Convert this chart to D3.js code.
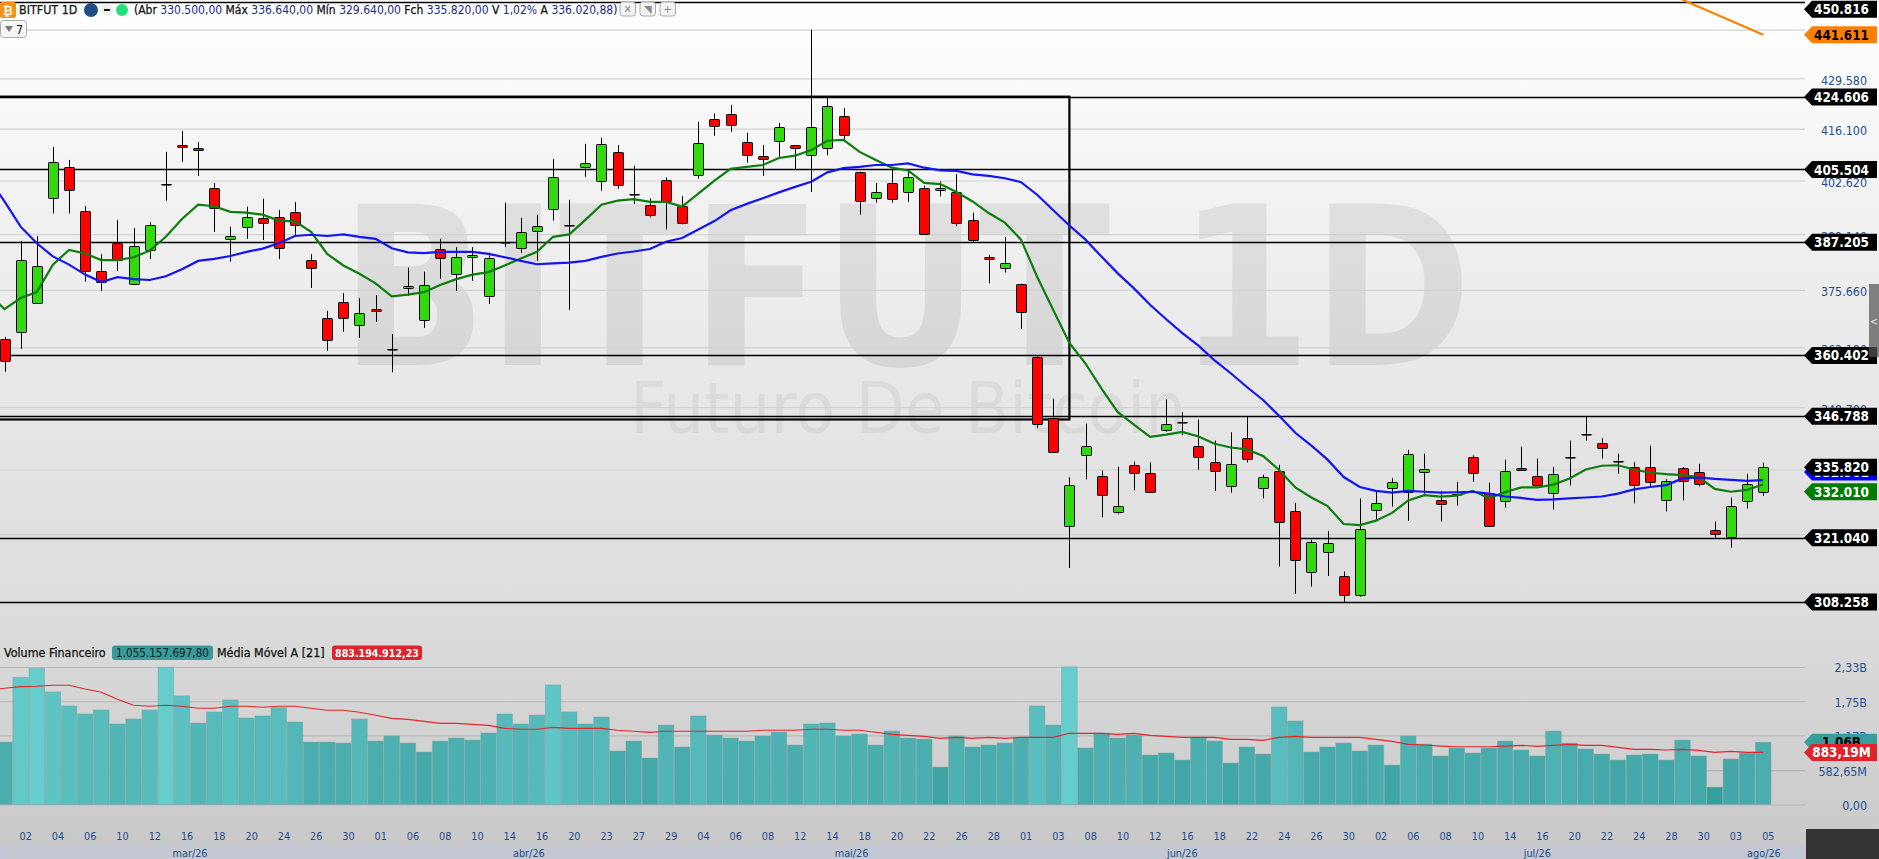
<!DOCTYPE html>
<html>
<head>
<meta charset="utf-8">
<script src="https://cdn.jsdelivr.net/npm/d3@7"></script>
<style>
  html, body { margin: 0; padding: 0; background: #fff; overflow: hidden; }
  svg { display: block; }
  text { font-family: "DejaVu Sans", sans-serif; font-stretch: condensed; }
  .heavy { stroke: currentColor; stroke-width: 0.25; }
</style>
</head>
<body>
<div id="chart"></div>
<script>
// candles, in thousands
const opens = [364.1,365.7,372.6,398.2,406.1,394.9,380.2,386.9,377.0,385.2,
  401.7,411.8,411.0,400.7,387.9,391.1,393.1,393.5,394.6,382.8,
  369.0,372.7,367.4,371.1,361.8,376.0,368.5,385.5,379.4,383.5,
  374.1,387.2,385.7,389.9,395.4,391.4,406.1,402.4,409.9,399.2,
  396.5,402.7,396.1,403.9,418.6,419.9,412.5,408.9,412.8,411.7,
  409.2,411.0,419.4,404.8,398.2,401.9,399.6,400.7,400.1,399.6,
  392.7,383.5,380.9,377.0,360.0,346.3,323.3,338.3,333.8,326.2,
  336.1,334.5,343.8,345.4,340.3,336.8,331.7,342.0,331.3,334.8,
  326.5,314.1,318.1,313.3,309.5,326.7,331.3,330.5,334.6,328.8,
  330.0,337.9,330.3,328.4,335.5,333.8,330.3,337.9,342.8,340.9,
  337.1,335.7,335.7,328.8,335.5,334.6,322.6,321.1,328.6,330.5];
const highs = [364.6,387.4,388.7,411.3,407.9,396.2,384.3,392.7,390.7,392.2,
  410.0,415.5,412.6,402.0,391.0,396.0,398.0,395.2,397.2,384.3,
  370.7,374.9,373.7,374.4,365.3,381.0,380.0,388.0,386.0,386.0,
  384.6,397.0,393.2,394.0,408.2,397.7,412.1,413.7,411.8,406.4,
  398.1,403.4,398.7,417.9,420.1,422.4,415.0,411.8,417.6,411.8,
  443.0,424.3,421.6,404.9,402.0,405.6,405.4,401.3,402.4,404.3,
  394.5,384.0,388.4,377.1,360.3,350.6,333.6,345.1,335.0,335.8,
  336.9,336.7,350.5,347.6,346.0,341.4,343.2,346.7,334.1,336.2,
  328.2,320.6,322.4,314.2,329.1,330.5,333.4,339.4,338.6,330.7,
  332.6,338.3,332.4,337.3,340.1,337.5,335.7,341.4,346.7,342.0,
  338.6,336.8,340.3,333.2,335.7,336.4,324.3,329.3,334.3,336.64];
const lows = [356.6,361.8,372.4,394.3,394.3,377.6,375.4,380.2,376.8,383.1,
  397.5,407.4,403.8,389.7,382.4,388.0,387.7,383.1,388.5,376.1,
  361.4,365.8,364.4,368.1,356.5,374.2,366.7,378.3,375.4,377.8,
  372.3,386.0,384.6,382.6,392.5,370.9,403.5,400.0,400.5,396.7,
  393.3,390.3,391.6,403.1,414.2,415.2,407.2,403.8,408.5,405.6,
  399.7,409.1,412.7,394.0,397.0,397.0,397.2,389.0,398.6,391.1,
  387.3,377.2,379.8,366.5,344.1,338.9,314.9,333.1,325.2,325.8,
  330.8,330.3,343.3,342.6,335.1,330.7,330.3,336.7,329.1,315.2,
  309.8,311.2,313.3,308.2,309.2,324.5,327.4,324.5,329.9,324.3,
  327.6,332.6,323.4,327.2,334.9,331.6,326.8,331.8,341.4,337.5,
  334.3,328.1,331.6,326.4,328.7,331.6,321.0,319.0,327.0,329.64];
const closes = [359.0,382.8,381.4,407.4,400.2,380.1,377.6,382.8,386.2,391.3,
  401.7,411.2,410.5,395.6,388.6,393.5,391.9,385.9,391.3,380.9,
  363.8,369.0,370.2,370.6,361.8,376.5,376.8,383.3,383.5,384.0,
  383.3,387.2,389.6,391.1,403.5,391.4,407.1,412.0,401.4,399.2,
  394.1,397.4,391.8,412.2,416.8,417.0,409.2,408.1,416.5,411.0,
  416.5,422.1,414.3,397.4,399.6,397.9,403.4,389.3,400.7,391.8,
  387.7,383.1,382.1,370.3,345.1,339.0,331.9,340.3,329.8,327.5,
  334.4,330.4,345.1,345.4,338.0,334.9,336.4,337.4,333.6,324.2,
  316.5,320.1,319.9,309.5,322.8,328.2,332.5,338.5,335.2,328.0,
  330.0,334.4,323.5,334.8,335.0,331.9,334.2,337.9,342.8,339.8,
  337.1,331.9,332.5,332.8,332.8,332.1,321.7,327.5,332.1,335.82];

// moving averages, the first value belongs to the bar just off the left edge
const maBlue = [403.3,397.3,391.0,386.9,383.7,381.7,379.3,377.5,378.7,378.2,378.0,
  378.9,380.6,382.6,383.1,383.8,384.8,385.6,386.9,388.7,389.0,
  388.7,389.1,388.5,388.0,385.7,384.7,384.5,384.8,384.8,384.8,
  384.3,383.5,382.6,381.8,382.0,382.2,382.6,383.6,384.4,384.9,
  385.5,387.3,388.2,390.3,392.4,395.1,396.7,398.1,399.6,401.0,
  402.3,404.7,405.8,406.1,406.6,406.6,407.0,405.9,405.2,405.1,
  404.2,403.8,403.2,402.2,399.0,395.1,391.3,387.8,383.6,379.6,
  376.0,372.1,368.7,365.5,362.6,359.2,356.3,353.2,350.3,346.8,
  343.1,340.3,337.3,333.6,331.5,330.7,330.3,330.7,330.5,330.3,
  330.4,330.5,330.1,329.5,329.2,328.8,328.9,329.1,329.3,329.5,
  330.1,331.0,331.5,331.9,333.3,333.5,333.2,333.0,332.8,332.96];
const maGreen = [374.7,371.1,373.7,375.1,381.7,385.3,384.4,382.8,382.8,383.5,385.1,
  388.5,392.9,396.5,396.1,394.7,394.5,394.0,392.5,392.3,389.7,
  384.3,381.5,379.5,377.2,374.1,374.5,375.1,376.8,378.2,379.3,
  379.9,381.5,383.2,384.8,388.5,389.1,392.7,396.5,397.5,397.9,
  397.2,397.2,396.0,399.3,402.6,405.6,406.1,406.6,408.4,409.0,
  410.5,412.9,413.1,410.0,407.9,405.9,405.2,402.0,401.7,399.7,
  397.3,394.4,392.0,387.8,378.8,370.9,363.2,358.5,352.8,347.6,
  344.9,342.2,342.7,343.3,342.3,340.7,339.9,339.5,338.1,335.1,
  331.4,329.3,327.5,323.8,323.6,324.5,326.1,328.7,329.8,329.5,
  329.7,330.7,329.2,330.4,331.4,331.4,332.0,333.3,335.2,336.0,
  336.1,335.2,334.5,334.2,334.0,333.6,331.1,330.5,330.9,332.01];

// financial volume and its 21 bar average, in millions
const volumes = [1058,2156,2309,1907,1670,1534,1602,1364,1449,1602,
  2326,1840,1381,1568,1772,1466,1500,1641,1398,1058,
  1058,1041,1449,1075,1160,1041,889,1075,1126,1092,
  1211,1534,1364,1517,2026,1568,1364,1483,906,1075,
  787,1347,974,1500,1177,1126,1075,1160,1228,1007,
  1364,1381,1160,1194,1007,1245,1126,1109,634,1160,
  974,1007,1041,1143,1670,1347,2332,957,1211,1126,
  1177,838,872,753,1143,1075,702,974,855,1653,
  1415,889,974,1041,906,1007,668,1160,1024,821,
  957,872,957,1075,923,821,1245,1041,940,855,
  753,838,855,753,1092,821,294,770,872,1055.16];
const volumeMa = [1940,1970,1998,2004,2021,2021,1958,1902,1783,1681,1664,
  1681,1664,1630,1630,1664,1664,1647,1664,1664,1630,
  1596,1596,1562,1511,1460,1443,1409,1375,1375,1358,
  1341,1290,1274,1274,1307,1290,1290,1290,1257,1240,
  1223,1240,1240,1240,1240,1240,1240,1257,1257,1257,
  1274,1274,1257,1257,1223,1189,1172,1155,1121,1138,
  1121,1138,1121,1138,1138,1138,1206,1206,1206,1189,
  1206,1172,1155,1138,1138,1138,1104,1104,1087,1138,
  1155,1138,1138,1138,1138,1104,1070,1019,1007,990,
  979,979,979,990,1002,985,1002,1019,1002,1002,
  968,934,934,923,934,917,883,900,883,883.19];

// axes
const dayLabels = ["02","04","06","10","12","16","18","20","24","26","30",
  "01","06","08","10","14","16","20","23","27","29",
  "04","06","08","12","14","18","20","22","26","28",
  "01","03","08","10","12","16","18","22","24","26","30",
  "02","06","08","10","14","16","20","22","24","28","30",
  "03","05"];
const monthLabels = ["", "mar/26", "abr/26", "mai/26", "jun/26", "jul/26", "ago/26"];
const monthStarts = [-0.5, 0.5, 22.5, 42.5, 62.5, 83.5, 106.5];
const priceTicks = [443.06, 429.58, 416.10, 402.62, 389.14, 375.66, 362.18, 348.70, 335.22, 321.74];
const volumeTicks = [2330, 1750, 1170, 582.65, 0];
const volumeTickLabels = ["2,33B", "1,75B", "1,17B", "582,65M", "0,00"];

// horizontal studies
const levels = [450.816, 424.606, 405.504, 387.205, 360.402, 346.788, 321.04, 308.258];
const boxPrices = [424.606, 346.0];
const boxEndBar = 66;
const trendBars = [104, 109];
const trendPrices = [451.5, 441.611];

const width = 1879, height = 859;
const plotRight = 1805;

const svg = d3.select("#chart").append("svg")
    .attr("width", width)
    .attr("height", height)
    .attr("viewBox", `0 0 ${width} ${height}`);

const defs = svg.append("defs");

// Background goes from white at the top to grey at the bottom
const bg = defs.append("linearGradient")
    .attr("id", "bg").attr("x1", 0).attr("y1", 0).attr("x2", 0).attr("y2", 1);
[["0%", "#ffffff"], ["5%", "#fdfdfd"], ["25%", "#f1f1f1"], ["50%", "#e5e5e5"], ["72%", "#dcdcdc"], ["100%", "#c8c8c8"]]
  .forEach(d => bg.append("stop").attr("offset", d[0]).attr("stop-color", d[1]));

defs.append("clipPath").attr("id", "plot")
  .append("rect").attr("width", plotRight).attr("height", 625);

svg.append("rect").attr("width", width).attr("height", height).attr("fill", "url(#bg)");

// Scales
const x = d3.scaleLinear().domain([0, 109]).range([4.5, 1763.2]);
const y = d3.scaleLog().domain([429.58, 308.26]).range([78.3, 601.6]);
const yVol = d3.scaleLinear().domain([0, 2330]).range([804.5, 667]);
const step = x(1) - x(0);
const barColor = d3.scaleLinear()
    .domain([300, 800, 1100, 1600, 2330])
    .range(["#369f9d", "#44a8a8", "#4cafaf", "#58bcbc", "#66cccc"]);
const px = v => Math.round(v) + 0.5;

// Watermark
svg.append("text")
    .attr("x", 340).attr("y", 365)
    .attr("textLength", 1132).attr("lengthAdjust", "spacingAndGlyphs")
    .style("font-stretch", "normal")
    .attr("font-size", 222).attr("font-weight", "bold")
    .attr("fill", "#000").attr("fill-opacity", 0.075)
    .text("BITFUT 1D");
svg.append("text")
    .attr("x", 630).attr("y", 433)
    .attr("textLength", 556).attr("lengthAdjust", "spacingAndGlyphs")
    .style("font-stretch", "normal")
    .attr("font-size", 72)
    .attr("fill", "#000").attr("fill-opacity", 0.05)
    .text("Futuro De Bitcoin");

// Price axis with its grid
const priceAxis = svg.append("g")
    .attr("transform", `translate(${plotRight},0)`)
    .call(d3.axisRight(y).tickValues(priceTicks).tickFormat(d3.format(".3f")).tickSizeInner(-plotRight).tickSizeOuter(0));
priceAxis.select(".domain").remove();
priceAxis.selectAll("line").attr("stroke", "#d2d2d2").attr("stroke-width", 1.2);
priceAxis.selectAll("text")
    .attr("x", 62).attr("dy", "0.48em").attr("text-anchor", "end")
    .attr("font-size", 12.4).attr("fill", "#23508f").attr("font-family", null);

// Volume axis with its grid
const volumeAxis = svg.append("g")
    .attr("transform", `translate(${plotRight},0)`)
    .call(d3.axisRight(yVol).tickValues(volumeTicks)
      .tickFormat((d, i) => volumeTickLabels[i]).tickSizeInner(-plotRight).tickSizeOuter(0));
volumeAxis.select(".domain").remove();
volumeAxis.selectAll("line").attr("stroke", "#b9b9b9").attr("stroke-width", 1.2);
volumeAxis.selectAll("text")
    .attr("x", 62).attr("dy", "0.4em").attr("text-anchor", "end")
    .attr("font-size", 12.4).attr("fill", "#23508f").attr("font-family", null);

const plot = svg.append("g").attr("clip-path", "url(#plot)");

// Study lines sit behind the candles
plot.selectAll(".level")
    .data(levels)
  .enter().append("line")
    .attr("class", "level")
    .attr("x1", 0).attr("x2", plotRight)
    .attr("y1", d => px(y(d))).attr("y2", d => px(y(d)))
    .attr("stroke", "#000").attr("stroke-width", 1.4);

plot.append("rect")
    .attr("x", -5).attr("y", y(boxPrices[0]))
    .attr("width", x(boxEndBar) + 5).attr("height", y(boxPrices[1]) - y(boxPrices[0]))
    .attr("fill", "none").attr("stroke", "#000").attr("stroke-width", 2.2);

// Candles
const candles = plot.selectAll(".candle")
    .data(d3.range(opens.length))
  .enter().append("g")
    .attr("class", "candle")
    .attr("transform", i => `translate(${px(x(i))},0)`);

candles.append("line")
    .attr("y1", i => y(highs[i])).attr("y2", i => y(lows[i]))
    .attr("stroke", "#000").attr("stroke-width", 1);

candles.append("rect")
    .attr("x", -5).attr("width", 10)
    .attr("y", i => Math.round(y(Math.max(opens[i], closes[i]))) + 0.5)
    .attr("height", i => Math.max(0.6, Math.round(Math.abs(y(opens[i]) - y(closes[i])))))
    .attr("rx", 0.8)
    .attr("fill", i => closes[i] > opens[i] ? "#33d90f" : closes[i] < opens[i] ? "#ff0000" : "#000")
    .attr("stroke", "#000").attr("stroke-width", 1);

// Moving averages
const maLine = d3.line().x((d, i) => x(i - 1)).y(d => y(d));
plot.append("path").attr("d", maLine(maGreen))
    .attr("fill", "none").attr("stroke", "#0e7c0e").attr("stroke-width", 2.2);
plot.append("path").attr("d", maLine(maBlue))
    .attr("fill", "none").attr("stroke", "#1414f5").attr("stroke-width", 2.2);

// Trend line off the top
plot.append("line")
    .attr("x1", x(trendBars[0])).attr("y1", y(trendPrices[0]))
    .attr("x2", x(trendBars[1])).attr("y2", y(trendPrices[1]))
    .attr("stroke", "#ff8000").attr("stroke-width", 2.2);

// Volume bars
svg.selectAll(".vol")
    .data(volumes)
  .enter().append("rect")
    .attr("class", "vol")
    .attr("x", (d, i) => x(i) - step / 2 + 0.3)
    .attr("width", step - 0.6)
    .attr("y", d => yVol(d))
    .attr("height", d => yVol(0) - yVol(d))
    .attr("fill", d => barColor(d))
    .attr("stroke", "#7f9c9c").attr("stroke-opacity", 0.55).attr("stroke-width", 0.8);

svg.append("path")
    .attr("d", d3.line().x((d, i) => x(i - 1)).y(d => yVol(d))(volumeMa))
    .attr("fill", "none").attr("stroke", "#e2272b").attr("stroke-width", 1.1);

// Date axis
const dateAxis = svg.append("g")
    .attr("transform", "translate(4.6,829)")
    .call(d3.axisBottom(x)
      .tickValues(dayLabels.map((d, i) => i * 2 + 1))
      .tickFormat(i => dayLabels[(i - 1) / 2])
      .tickSize(0).tickPadding(3));
dateAxis.select(".domain").remove();
dateAxis.selectAll("text")
    .attr("font-size", 10.8).attr("fill", "#1c4a8c").attr("font-family", null);

// Month strip
const monthEnds = monthStarts.slice(1).concat([109 + (plotRight - x(109)) / step]);
const month = svg.selectAll(".month")
    .data(monthLabels)
  .enter().append("g")
    .attr("class", "month");
month.append("rect")
    .attr("x", (d, i) => x(monthStarts[i]) + 1)
    .attr("y", 845)
    .attr("width", (d, i) => x(monthEnds[i]) - x(monthStarts[i]) - 1)
    .attr("height", 14)
    .attr("fill", "#c3c8d2");
month.append("text")
    .attr("x", (d, i) => (x(monthStarts[i]) + x(monthEnds[i])) / 2)
    .attr("y", 856.5)
    .attr("text-anchor", "middle")
    .attr("font-size", 10.8).attr("fill", "#1c4a8c")
    .text(d => d);

svg.append("rect").attr("x", plotRight + 1).attr("y", 829).attr("width", 74).attr("height", 30).attr("fill", "#333");

// Price flags on the right
const flagPath = cy => `M${plotRight - 1},${cy} L${plotRight + 7},${cy - 8.5} H1877 V${cy + 8.5} H${plotRight + 7} Z`;
function addFlag(cy, fill, textFill, label) {
  svg.append("path").attr("d", flagPath(cy)).attr("fill", fill);
  svg.append("text")
      .attr("x", 1841.5).attr("y", cy + 5)
      .attr("text-anchor", "middle")
      .attr("font-size", 13.4).attr("font-weight", "bold")
      .attr("fill", textFill)
      .text(label);
}
const fmt = d3.format(".3f");
addFlag(y(332.96) - 8, "#0000ff", "#fff", fmt(332.961));
// the top flag is pushed down so it stays on the page
levels.forEach(d => addFlag(Math.max(y(d) + 0.3, 9.3), "#000", "#fff", fmt(d)));
addFlag(y(335.82) + 0.7, "#000", "#fff", fmt(335.82));
addFlag(y(332.01) + 7.2, "#007d00", "#fff", fmt(332.01));
addFlag(y(441.611), "#ff8000", "#000", fmt(441.611));
addFlag(yVol(1055.16), "#389d9d", "#000", "1,06B");
addFlag(yVol(883.19), "#e2222a", "#fff", "883,19M");

// Side handle
svg.append("rect").attr("x", 1869).attr("y", 284).attr("width", 10).attr("height", 73)
    .attr("fill", "#555").attr("fill-opacity", 0.72);
svg.append("text").attr("x", 1874).attr("y", 325).attr("text-anchor", "middle")
    .attr("font-size", 11).attr("fill", "#eee").text("<");

// Header
const head = svg.append("g");
head.append("rect").attr("x", 0).attr("y", 2).attr("width", 16).attr("height", 16).attr("rx", 2).attr("fill", "#f7931a");
head.append("text").attr("x", 8).attr("y", 14.5).attr("text-anchor", "middle")
    .attr("font-size", 12).attr("font-weight", "bold").attr("fill", "#fff").text("₿");
head.append("text").attr("x", 19).attr("y", 14)
    .attr("font-size", 12.4).attr("fill", "#222").attr("class", "heavy").text("BITFUT 1D");
head.append("circle").attr("cx", 91).attr("cy", 10).attr("r", 7).attr("fill", "#1f4e86");
head.append("circle").attr("cx", 107).attr("cy", 10).attr("r", 6).attr("fill", "#eee");
head.append("rect").attr("x", 104).attr("y", 9).attr("width", 6).attr("height", 2).attr("fill", "#111");
head.append("circle").attr("cx", 122).attr("cy", 10).attr("r", 6).attr("fill", "#22e07a");

const quote = [["(Abr ", "330.500,00"], [" Máx ", "336.640,00"], [" Mín ", "329.640,00"], [" Fch ", "335.820,00"], [" V ", "1,02%"], [" A ", "336.020,88"]];
const quoteText = head.append("text").attr("x", 134).attr("y", 14).attr("font-size", 12);
quote.forEach(d => {
  quoteText.append("tspan").attr("fill", "#111").attr("color", "#111").attr("class", "heavy").text(d[0]);
  quoteText.append("tspan").attr("fill", "#1a2a8a").text(d[1]);
});
quoteText.append("tspan").attr("fill", "#111").text(")");

[620, 640, 660].forEach((bx, i) => {
  head.append("rect").attr("x", bx).attr("y", 2).attr("width", 15.5).attr("height", 14).attr("rx", 3)
      .attr("fill", "#f4f4f4").attr("stroke", "#aaa");
  head.append("text").attr("x", bx + 7.7).attr("y", 13).attr("text-anchor", "middle")
      .attr("font-size", 11).attr("fill", "#888").text(["✕", "◥", "+"][i]);
});

head.append("rect").attr("x", 0.5).attr("y", 20.5).attr("width", 26).attr("height", 17).attr("rx", 3)
    .attr("fill", "#f7f7f7").attr("stroke", "#aaa");
head.append("path").attr("d", "M5,26 H13 L9,32 Z").attr("fill", "#777");
head.append("text").attr("x", 16).attr("y", 33.5).attr("font-size", 12.5).attr("fill", "#111").text("7");

// Volume legend
svg.append("text").attr("x", 4).attr("y", 657).attr("font-size", 12.4).attr("fill", "#111").attr("color", "#111").attr("class", "heavy").text("Volume Financeiro");
svg.append("rect").attr("x", 112).attr("y", 645.5).attr("width", 101).attr("height", 14.5).attr("rx", 3).attr("fill", "#3a9a9a");
svg.append("text").attr("x", 162.5).attr("y", 657).attr("text-anchor", "middle").attr("font-size", 11.6).attr("fill", "#0a1f1f").text("1.055.157.697,80");
svg.append("text").attr("x", 217).attr("y", 657).attr("font-size", 12.4).attr("fill", "#111").attr("color", "#111").attr("class", "heavy").text("Média Móvel A [21]");
svg.append("rect").attr("x", 332).attr("y", 645.5).attr("width", 90).attr("height", 14.5).attr("rx", 3).attr("fill", "#e2222a");
svg.append("text").attr("x", 377).attr("y", 657).attr("text-anchor", "middle").attr("font-size", 10.6).attr("font-weight", "bold").attr("fill", "#fff").text("883.194.912,23");
</script>
</body>
</html>
